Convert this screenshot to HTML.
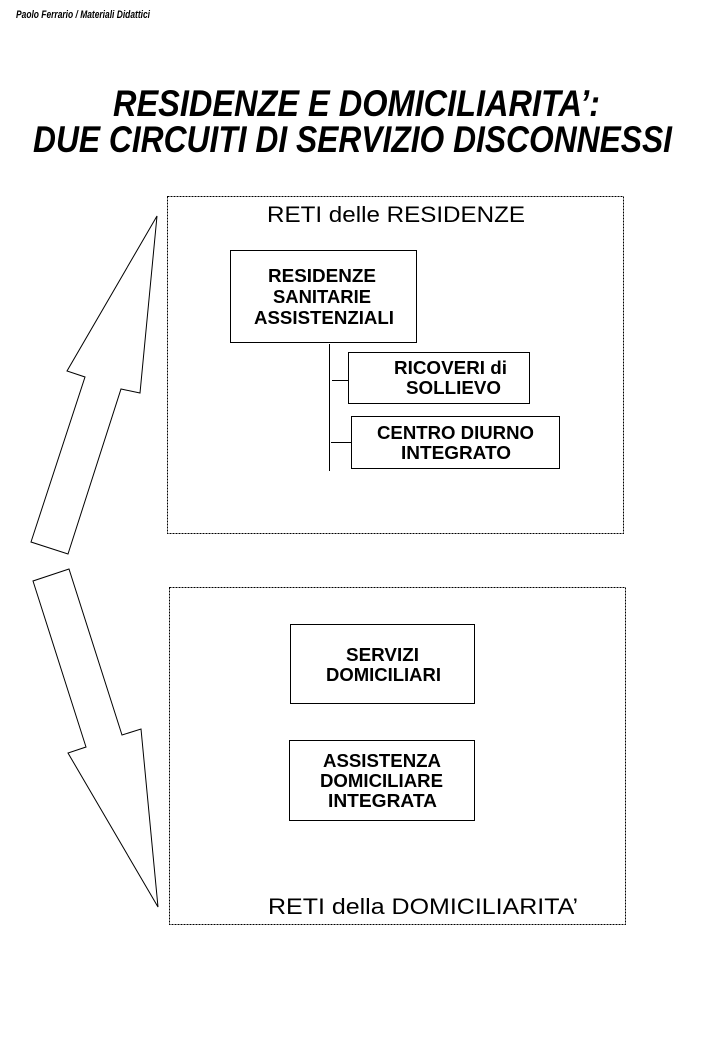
<!DOCTYPE html>
<html><head><meta charset="utf-8"><style>html,body{margin:0;padding:0;background:#fff}svg{display:block}</style></head>
<body>
<svg width="720" height="1040" viewBox="0 0 720 1040" xmlns="http://www.w3.org/2000/svg" font-family="Liberation Sans, sans-serif">
<text x="16" y="18" font-size="11" font-style="italic" font-weight="bold" textLength="134" lengthAdjust="spacingAndGlyphs">Paolo Ferrario / Materiali Didattici</text>
<text x="113" y="116" font-size="37" font-style="italic" font-weight="bold" textLength="487" lengthAdjust="spacingAndGlyphs">RESIDENZE E DOMICILIARITA’:</text>
<text x="33" y="152" font-size="37" font-style="italic" font-weight="bold" textLength="639" lengthAdjust="spacingAndGlyphs">DUE CIRCUITI DI SERVIZIO DISCONNESSI</text>

<g fill="none" stroke="#000" stroke-width="1">
<rect x="167.5" y="196.5" width="456" height="337" stroke-dasharray="2,1"/>
<rect x="169.5" y="587.5" width="456" height="337" stroke-dasharray="2,1"/>
<polygon points="157,216 140,393 121,389 68,554 31,542 85,377 67,371"/>
<polygon points="69,569 33,581 86,747 68,753 158,907 141,729 122,735"/>
<rect x="230.5" y="250.5" width="186" height="92"/>
<rect x="348.5" y="352.5" width="181" height="51"/>
<rect x="351.5" y="416.5" width="208" height="52"/>
<line x1="329.5" y1="344" x2="329.5" y2="471"/>
<line x1="332" y1="380.5" x2="348" y2="380.5"/>
<line x1="331" y1="442.5" x2="351" y2="442.5"/>
<rect x="290.5" y="624.5" width="184" height="79"/>
<rect x="289.5" y="740.5" width="185" height="80"/>
</g>

<g font-size="22" lengthAdjust="spacingAndGlyphs">
<text x="267" y="222" textLength="258" lengthAdjust="spacingAndGlyphs">RETI delle RESIDENZE</text>
<text x="268" y="914" textLength="310" lengthAdjust="spacingAndGlyphs">RETI della DOMICILIARITA’</text>
</g>
<g font-size="18" font-weight="bold">
<text x="268" y="282" textLength="108" lengthAdjust="spacingAndGlyphs">RESIDENZE</text>
<text x="273" y="303" textLength="98" lengthAdjust="spacingAndGlyphs">SANITARIE</text>
<text x="254" y="324" textLength="140" lengthAdjust="spacingAndGlyphs">ASSISTENZIALI</text>
<text x="394" y="374" textLength="113" lengthAdjust="spacingAndGlyphs">RICOVERI di</text>
<text x="406" y="394" textLength="95" lengthAdjust="spacingAndGlyphs">SOLLIEVO</text>
<text x="377" y="439" textLength="157" lengthAdjust="spacingAndGlyphs">CENTRO DIURNO</text>
<text x="401" y="459" textLength="110" lengthAdjust="spacingAndGlyphs">INTEGRATO</text>
<text x="346" y="661" textLength="73" lengthAdjust="spacingAndGlyphs">SERVIZI</text>
<text x="326" y="681" textLength="115" lengthAdjust="spacingAndGlyphs">DOMICILIARI</text>
<text x="323" y="767" textLength="118" lengthAdjust="spacingAndGlyphs">ASSISTENZA</text>
<text x="320" y="787" textLength="123" lengthAdjust="spacingAndGlyphs">DOMICILIARE</text>
<text x="328" y="807" textLength="109" lengthAdjust="spacingAndGlyphs">INTEGRATA</text>
</g>
</svg>
</body></html>
